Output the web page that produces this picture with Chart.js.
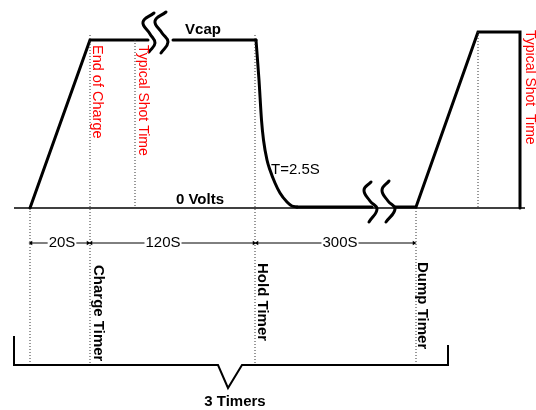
<!DOCTYPE html>
<html>
<head>
<meta charset="utf-8">
<script src="https://cdn.jsdelivr.net/npm/chart.js@4/dist/chart.umd.min.js"></script>
<style>
  body { margin: 0; background: #fff; }
  #wrap { width: 536px; height: 410px; }
</style>
</head>
<body>
<div id="wrap"><canvas id="diagram" width="536" height="410"></canvas></div>
<script>
// diagram units: x = horizontal position, v = level above the 0 Volts line
const baseX = [14, 525];
const baseV = [0, 0];

// voltage trace, split at the two breaks
const chargeX = [30, 90, 148];
const chargeV = [0, 168, 168];
const holdX = [173, 256];
const holdV = [168, 168];
const decayX = [256, 259, 261.5, 263.5, 267, 270, 275, 280, 287, 292, 297];
const decayV = [168, 128, 88, 68, 48, 38, 25, 15, 6, 2, 1];
const restX = [297, 372];
const restV = [1, 1];
const dumpX = [395, 416, 478, 520, 520];
const dumpV = [1, 1, 176, 176, 0];

// break marks
const breakTopX = [[154, 143, 150, 155, 149], [166, 155, 162, 168, 161]];
const breakTopV = [[195, 186, 174, 165, 156], [196, 187, 175, 166, 155]];
const breakLowX = [[371, 364, 370, 377, 369], [389, 382, 388, 395, 386]];
const breakLowV = [[26, 18, 7, -1, -14], [27, 18, 7, -1, -14]];

// dotted event markers
const markerX = [30, 90, 135, 255, 416, 478];
const markerTop = [0, 173, 168, 173, 0, 176];
const markerBottom = [-155, -155, 0, -155, -155, 0];

// timer durations
const spanStart = [31, 91, 257];
const spanEnd = [88, 254, 414];
const spanLabels = ["20S", "120S", "300S"];
const spanLabelX = [62, 163, 340];
const spanV = -35;

// brace under the timers
const braceX = [14, 14, 218, 228, 242, 448, 448];
const braceV = [-128, -157, -157, -180, -157, -157, -137];

const pts = (xs, vs) => xs.map((x, i) => ({ x: x, y: vs[i] }));

const datasets = [];
const line = (data, extra) => datasets.push(Object.assign({
  data: data, showLine: true, borderColor: "#000", borderWidth: 3,
  pointRadius: 0, tension: 0, fill: false, borderCapStyle: "round"
}, extra || {}));

line(pts(baseX, baseV), { borderWidth: 1.5, borderCapStyle: "butt" });
markerX.forEach((x, i) => line(pts([x, x], [markerTop[i], markerBottom[i]]),
  { borderWidth: 1, borderDash: [1, 2], borderColor: "#333", borderCapStyle: "butt" }));
line(pts(chargeX, chargeV));
line(pts(holdX, holdV));
line(pts(decayX, decayV), { cubicInterpolationMode: "monotone" });
line(pts(restX, restV));
line(pts(dumpX, dumpV));
breakTopX.forEach((xs, i) => line(pts(xs, breakTopV[i]), { tension: 0.45 }));
breakLowX.forEach((xs, i) => line(pts(xs, breakLowV[i]), { tension: 0.45 }));
spanStart.forEach((s, i) => line(pts([s, spanEnd[i]], [spanV, spanV]), {
  borderWidth: 1, pointRadius: 2.5, pointStyle: "triangle", borderCapStyle: "butt",
  pointRotation: [-90, 90], pointBackgroundColor: "#000", pointBorderWidth: 0
}));
line(pts(braceX, braceV), { borderWidth: 2, borderCapStyle: "butt" });

const font = "'Liberation Sans', Arial, sans-serif";
const texts = [
  { t: "Vcap", x: 203, v: 178, bold: true, align: "center" },
  { t: "0 Volts", x: 200, v: 8, bold: true, align: "center" },
  { t: "T=2.5S", x: 271, v: 38, align: "left" },
  { t: "3 Timers", x: 235, v: -194, bold: true, align: "center" },
  { t: "End of Charge", x: 97, v: 163, rot: true, color: "#f00", size: 14.5 },
  { t: "Typical Shot Time", x: 143, v: 163, rot: true, color: "#f00", size: 14 },
  { t: "Typical Shot  Time", x: 530, v: 178, rot: true, color: "#f00", size: 14 },
  { t: "Charge Timer", x: 98, v: -57, rot: true, bold: true },
  { t: "Hold Timer", x: 262, v: -55, rot: true, bold: true },
  { t: "Dump Timer", x: 422, v: -54, rot: true, bold: true }
];

const textPlugin = {
  id: "diagramText",
  afterDatasetsDraw(chart) {
    const ctx = chart.ctx;
    const xs = chart.scales.x, ys = chart.scales.y;
    ctx.save();
    ctx.textBaseline = "middle";
    // span labels sit on a white gap in the dimension line
    ctx.font = "15px " + font;
    ctx.textAlign = "center";
    spanLabels.forEach((lab, i) => {
      const px = xs.getPixelForValue(spanLabelX[i]);
      const py = ys.getPixelForValue(spanV);
      const w = ctx.measureText(lab).width;
      ctx.fillStyle = "#fff";
      ctx.fillRect(px - w / 2 - 1, py - 3, w + 2, 6);
      ctx.fillStyle = "#000";
      ctx.fillText(lab, px, py);
    });
    texts.forEach(o => {
      const px = xs.getPixelForValue(o.x);
      const py = ys.getPixelForValue(o.v);
      ctx.font = (o.bold ? "bold " : "") + (o.size || 15) + "px " + font;
      ctx.fillStyle = o.color || "#000";
      if (o.rot) {
        ctx.save();
        ctx.translate(px, py);
        ctx.rotate(Math.PI / 2);
        ctx.textAlign = "left";
        ctx.fillText(o.t, 0, 0);
        ctx.restore();
      } else {
        ctx.textAlign = o.align;
        ctx.fillText(o.t, px, py);
      }
    });
    ctx.restore();
  }
};

new Chart(document.getElementById("diagram").getContext("2d"), {
  type: "scatter",
  data: { datasets: datasets },
  options: {
    responsive: false,
    animation: false,
    layout: { padding: 0, autoPadding: false },
    scales: {
      x: { type: "linear", min: 0, max: 536, display: false },
      y: { type: "linear", min: -202, max: 208, display: false }
    },
    plugins: { legend: { display: false }, tooltip: { enabled: false } }
  },
  plugins: [textPlugin]
});
</script>
</body>
</html>
